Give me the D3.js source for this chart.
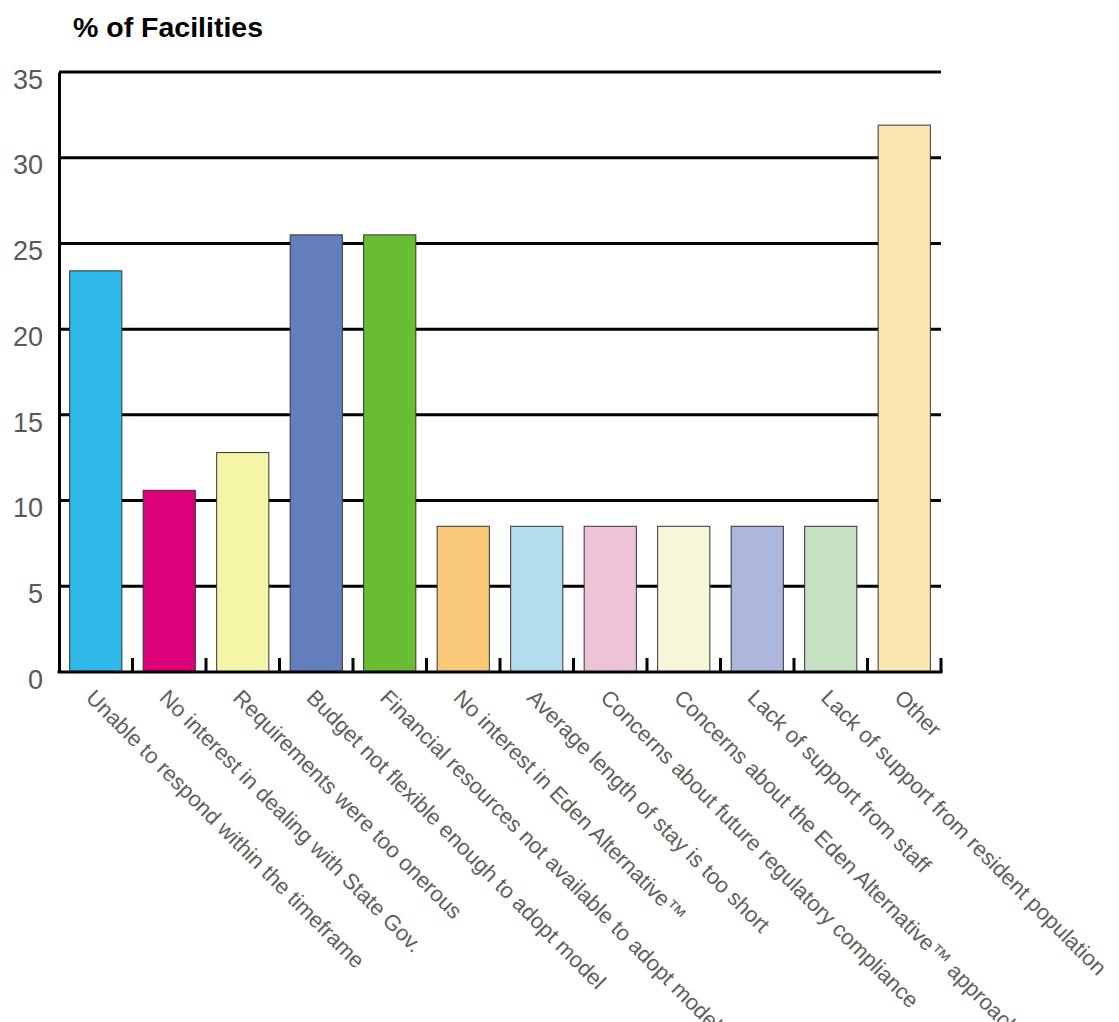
<!DOCTYPE html>
<html><head><meta charset="utf-8">
<script src="https://cdn.jsdelivr.net/npm/d3@7"></script>
<style>body{margin:0;background:#fff}svg{display:block}</style>
</head><body>
<svg id="c" width="1119" height="1022"></svg>
<script>
const categories = [
  "Unable to respond within the timeframe",
  "No interest in dealing with State Gov.",
  "Requirements were too onerous",
  "Budget not flexible enough to adopt model",
  "Financial resources not available to adopt model",
  "No interest in Eden Alternative™",
  "Average length of stay is too short",
  "Concerns about future regulatory compliance",
  "Concerns about the Eden Alternative™ approach",
  "Lack of support from staff",
  "Lack of support from resident population",
  "Other"
];
const values = [23.4, 10.6, 12.8, 25.5, 25.5, 8.5, 8.5, 8.5, 8.5, 8.5, 8.5, 31.9];
const colors = ["#2fb8e8","#dc007a","#f5f5a8","#637dbd","#69bd32","#f7c978","#b3dcef","#eec3d8","#f7f6d9","#aeb6dc","#c6e0c2","#fde7b0"];
const yTicks = [0,5,10,15,20,25,30,35];
const yTitle = "% of Facilities";

(function () {
const svg = d3.select("#c");
const mLeft = 59, mRight = 941, mTop = 72, mBottom = 672;
const x = d3.scaleBand().domain(categories).range([mLeft, mRight]).paddingInner(0.29).paddingOuter(0.145);
const y = d3.scaleLinear().domain([0, 35]).range([mBottom, mTop]);
const font = "Liberation Sans, Arial, sans-serif";

svg.append("text").attr("x", 73).attr("y", 37).attr("font-family", font)
  .attr("font-weight", "bold").attr("font-size", 28.5).attr("fill", "#000").text(yTitle);

// gridlines
svg.append("g").selectAll("line").data(yTicks.filter(d => d > 0)).join("line")
  .attr("x1", mLeft).attr("x2", mRight).attr("y1", d => y(d)).attr("y2", d => y(d))
  .attr("stroke", "#000").attr("stroke-width", 3);

// bars
svg.append("g").selectAll("rect").data(values).join("rect")
  .attr("x", (d, i) => x(categories[i])).attr("width", x.bandwidth())
  .attr("y", d => y(d)).attr("height", d => y(0) - y(d))
  .attr("fill", (d, i) => colors[i]).attr("stroke", "#333").attr("stroke-width", 1);

// y axis
const yAxis = svg.append("g").attr("transform", `translate(${mLeft},0)`)
  .call(d3.axisLeft(y).tickValues(yTicks).tickSize(0).tickPadding(16));
yAxis.select(".domain").attr("stroke", "#000").attr("stroke-width", 3);
yAxis.selectAll("text").attr("font-family", font)
  .attr("font-size", 27).attr("fill", "#595959").attr("dy", "0.6em");

// x axis baseline
const step = x.step();
const gap = (step - x.bandwidth()) / 2;
svg.append("line").attr("x1", mLeft - 1.5).attr("x2", mRight + 1.5).attr("y1", mBottom).attr("y2", mBottom)
  .attr("stroke", "#000").attr("stroke-width", 3);
// boundary ticks
svg.append("g").selectAll("line").data(categories).join("line")
  .attr("x1", d => x(d) + x.bandwidth() + gap)
  .attr("x2", d => x(d) + x.bandwidth() + gap)
  .attr("y1", mBottom).attr("y2", mBottom - 14).attr("stroke", "#000").attr("stroke-width", 3);

// category labels
svg.append("g").selectAll("text").data(categories).join("text")
  .attr("transform", d => `translate(${x(d) + x.bandwidth() / 2 - 11},${mBottom + 27}) rotate(45)`)
  .attr("font-family", font).attr("font-size", 22)
  .attr("fill", "#5f5f5f").text(d => d);
})();
</script>
</body></html>
